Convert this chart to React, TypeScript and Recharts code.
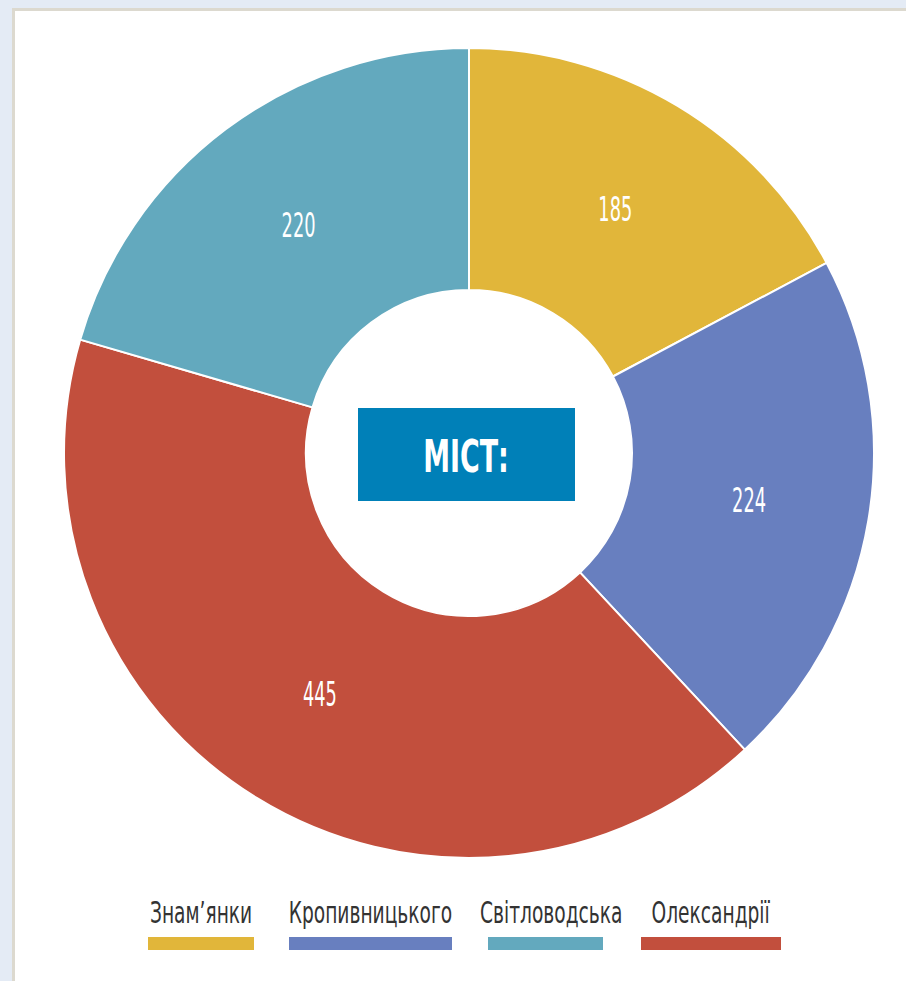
import React from "react";
import { PieChart, Pie, Cell } from "recharts";

// Порядок секторів за годинниковою стрілкою від верху
const cities = ["Знам'янки", "Кропивницького", "Олександрії", "Світловодська"];
const counts = [185, 224, 445, 220];
const colors = ["#e1b63a", "#687fbf", "#c24f3d", "#63a9be"];

// Порядок у легенді
const legendOrder = ["Знам'янки", "Кропивницького", "Світловодська", "Олександрії"];
const legendLabels = ["Знам\u02bcянки", "Кропивницького", "Світловодська", "Олександрії"];

const centerTitle = "МІСТ:";

const FONT = "'DejaVu Sans Condensed', 'DejaVu Sans', sans-serif";
const RADIAN = Math.PI / 180;

const data = cities.map((c, i) => ({ name: c, value: counts[i] }));

function renderLabel(props: any) {
  const { cx, cy, midAngle, innerRadius, outerRadius, value } = props;
  const r = (innerRadius + outerRadius) / 2;
  const x = cx + r * Math.cos(-midAngle * RADIAN);
  const y = cy + r * Math.sin(-midAngle * RADIAN);
  return (
    <text
      transform={`translate(${x},${y}) scale(0.6,1)`}
      x={0}
      y={0}
      fill="#ffffff"
      textAnchor="middle"
      dominantBaseline="central"
      fontFamily={FONT}
      fontSize={33}
    >
      {value}
    </text>
  );
}

export default function App() {
  return (
    <div style={{ position: "absolute", left: 0, top: 0, width: 906, height: 981, background: "#e4ebf5", overflow: "hidden" }}>
      <div
        style={{
          position: "absolute",
          left: 12,
          top: 8,
          right: 0,
          bottom: 0,
          background: "#ffffff",
          borderLeft: "3px solid #dcd9cf",
          borderTop: "3px solid #dcd9cf",
        }}
      />
      <div style={{ position: "absolute", left: 0, top: 0 }}>
        <PieChart width={906} height={900}>
          <Pie
            data={data}
            dataKey="value"
            nameKey="name"
            cx={464}
            cy={448}
            innerRadius={163}
            outerRadius={405}
            startAngle={90}
            endAngle={-270}
            stroke="#ffffff"
            strokeWidth={2}
            label={renderLabel}
            labelLine={false}
            isAnimationActive={false}
          >
            {data.map((d, i) => (
              <Cell key={d.name} fill={colors[i]} />
            ))}
          </Pie>
        </PieChart>
      </div>
      <div
        style={{
          position: "absolute",
          left: 358,
          top: 408,
          width: 217,
          height: 93,
          background: "#0080b8",
          display: "flex",
          alignItems: "center",
          justifyContent: "center",
        }}
      >
        <span
          style={{
            color: "#ffffff",
            fontFamily: FONT,
            fontWeight: 700,
            fontSize: 44,
            display: "inline-block",
            transform: "scaleX(0.68)",
            marginTop: 4,
          }}
        >
          {centerTitle}
        </span>
      </div>
      {legendOrder.map((name, i) => {
        const idx = cities.indexOf(name);
        const pos = [
          { left: 148, width: 106 },
          { left: 289, width: 163 },
          { left: 488, width: 115 },
          { left: 641, width: 140 },
        ][i];
        return (
          <div key={name} style={{ position: "absolute", top: 894, left: pos.left - 40, width: pos.width + 80, textAlign: "center" }}>
            <div style={{ height: 38, lineHeight: "38px", whiteSpace: "nowrap" }}>
              <span
                style={{
                  fontFamily: FONT,
                  fontSize: 30,
                  color: "#333333",
                  display: "inline-block",
                  transform: "scaleX(0.69)",
                }}
              >
                {legendLabels[i]}
              </span>
            </div>
            <div style={{ margin: "5px auto 0", width: pos.width, height: 13, background: colors[idx] }} />
          </div>
        );
      })}
    </div>
  );
}
